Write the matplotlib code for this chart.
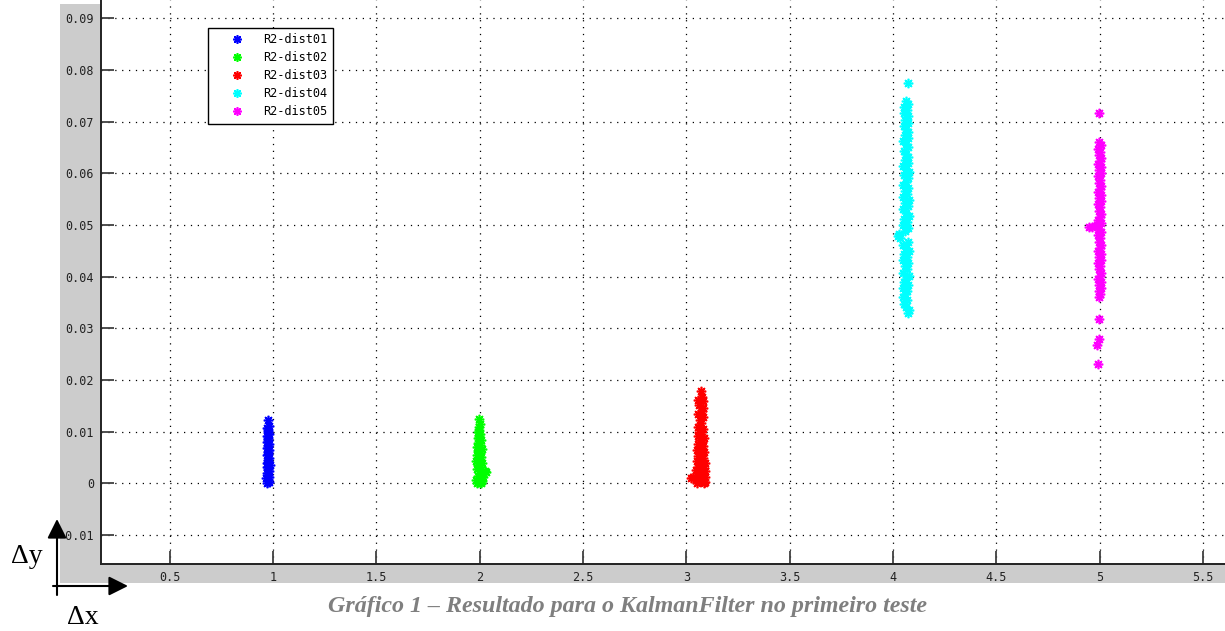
import matplotlib.pyplot as plt
from matplotlib.patches import Rectangle, FancyArrowPatch

blue_x = [0.972, 0.980, 0.976, 0.968, 0.983, 0.975, 0.970, 0.981,
          0.977, 0.973, 0.984, 0.969, 0.978, 0.975, 0.982, 0.971,
          0.977, 0.974, 0.980, 0.970, 0.976, 0.983, 0.972, 0.978,
          0.975, 0.969, 0.981, 0.974, 0.977, 0.972, 0.979, 0.975]
blue_y = [0.0000, 0.0003, 0.0006, 0.0010, 0.0013, 0.0017, 0.0020, 0.0024,
          0.0028, 0.0031, 0.0035, 0.0039, 0.0042, 0.0046, 0.0050, 0.0054,
          0.0057, 0.0061, 0.0065, 0.0069, 0.0072, 0.0076, 0.0080, 0.0084,
          0.0088, 0.0091, 0.0095, 0.0099, 0.0103, 0.0107, 0.0111, 0.0122]

green_x = [1.985, 2.005, 1.995, 2.012, 1.982, 2.000, 2.015, 1.990, 2.008, 2.030,
           2.024, 1.986, 2.003, 1.992, 2.010, 1.984, 1.998, 2.006, 1.988, 2.002,
           1.994, 2.009, 1.987, 2.000, 1.993, 2.004, 1.990, 1.997, 2.001, 1.992,
           1.999, 1.995, 2.003, 1.996]
green_y = [0.0000, 0.0001, 0.0003, 0.0005, 0.0007, 0.0009, 0.0012, 0.0015, 0.0018, 0.0021,
           0.0024, 0.0027, 0.0031, 0.0035, 0.0039, 0.0043, 0.0047, 0.0051, 0.0055, 0.0059,
           0.0063, 0.0067, 0.0071, 0.0075, 0.0079, 0.0083, 0.0087, 0.0091, 0.0095, 0.0099,
           0.0104, 0.0109, 0.0114, 0.0124]

red_x = [3.050, 3.085, 3.020, 3.060, 3.092, 3.045, 3.075, 3.030, 3.068, 3.088,
         3.052, 3.080, 3.058, 3.090, 3.048, 3.072, 3.084, 3.055, 3.078, 3.062,
         3.088, 3.050, 3.070, 3.082, 3.056, 3.076, 3.064, 3.086, 3.052, 3.072,
         3.060, 3.080, 3.055, 3.074, 3.066, 3.084, 3.058, 3.070, 3.062, 3.078,
         3.054, 3.072, 3.066, 3.080, 3.058, 3.076, 3.082, 3.062, 3.078, 3.056,
         3.074, 3.070]
red_y = [0.0000, 0.0000, 0.0010, 0.0004, 0.0003, 0.0008, 0.0007, 0.0012, 0.0011, 0.0013,
         0.0016, 0.0018, 0.0021, 0.0023, 0.0025, 0.0027, 0.0030, 0.0032, 0.0035, 0.0038,
         0.0040, 0.0043, 0.0046, 0.0049, 0.0052, 0.0055, 0.0058, 0.0061, 0.0064, 0.0067,
         0.0070, 0.0073, 0.0077, 0.0080, 0.0084, 0.0088, 0.0092, 0.0096, 0.0100, 0.0105,
         0.0110, 0.0116, 0.0122, 0.0128, 0.0134, 0.0140, 0.0146, 0.0152, 0.0160, 0.0161,
         0.0168, 0.0178]

cyan_x = [4.070, 4.076, 4.060, 4.052, 4.068, 4.048, 4.058, 4.066, 4.050, 4.074,
          4.054, 4.064, 4.078, 4.050, 4.068, 4.056, 4.074, 4.048, 4.066, 4.054,
          4.076, 4.060, 4.046, 4.070, 4.035, 4.022, 4.030, 4.056, 4.074, 4.050,
          4.066, 4.054, 4.076, 4.060, 4.048, 4.072, 4.056, 4.078, 4.050, 4.066,
          4.056, 4.074, 4.048, 4.062, 4.072, 4.054, 4.076, 4.060, 4.050, 4.070,
          4.056, 4.074, 4.062, 4.052, 4.072, 4.060, 4.050, 4.070, 4.056, 4.074,
          4.062, 4.052, 4.070, 4.058, 4.072, 4.054, 4.066, 4.052, 4.074, 4.062,
          4.070]
cyan_y = [0.0330, 0.0336, 0.0342, 0.0348, 0.0354, 0.0360, 0.0366, 0.0372, 0.0378, 0.0384,
          0.0390, 0.0396, 0.0402, 0.0408, 0.0414, 0.0420, 0.0426, 0.0432, 0.0438, 0.0444,
          0.0450, 0.0456, 0.0462, 0.0468, 0.0474, 0.0478, 0.0482, 0.0488, 0.0494, 0.0500,
          0.0506, 0.0512, 0.0518, 0.0524, 0.0530, 0.0536, 0.0542, 0.0548, 0.0554, 0.0560,
          0.0566, 0.0572, 0.0578, 0.0584, 0.0590, 0.0596, 0.0602, 0.0608, 0.0614, 0.0620,
          0.0626, 0.0632, 0.0638, 0.0644, 0.0650, 0.0656, 0.0662, 0.0668, 0.0674, 0.0680,
          0.0686, 0.0692, 0.0698, 0.0704, 0.0710, 0.0716, 0.0722, 0.0728, 0.0734, 0.0740,
          0.0775]

magenta_x = [4.993, 4.985, 4.995, 4.997, 4.998, 5.002, 4.994, 5.004, 4.996, 5.006,
             4.992, 5.000, 5.008, 4.994, 5.002, 4.990, 5.004, 4.996, 5.006, 4.992,
             5.000, 5.008, 4.994, 5.002, 4.990, 5.004, 4.996, 4.950, 4.962, 4.975,
             4.985, 5.006, 4.992, 5.000, 5.008, 4.994, 5.002, 4.990, 5.004, 4.996,
             5.006, 4.992, 5.000, 5.008, 4.994, 5.002, 4.990, 5.004, 4.996, 5.006,
             4.992, 5.000, 5.008, 4.994, 5.002, 4.990, 5.004, 4.998, 4.998]
magenta_y = [0.0230, 0.0267, 0.0279, 0.0318, 0.0360, 0.0366, 0.0372, 0.0378, 0.0384, 0.0390,
             0.0396, 0.0402, 0.0408, 0.0414, 0.0420, 0.0426, 0.0432, 0.0438, 0.0444, 0.0450,
             0.0456, 0.0462, 0.0468, 0.0474, 0.0480, 0.0486, 0.0492, 0.0496, 0.0497, 0.0498,
             0.0500, 0.0504, 0.0510, 0.0516, 0.0522, 0.0528, 0.0534, 0.0540, 0.0546, 0.0552,
             0.0558, 0.0564, 0.0570, 0.0576, 0.0582, 0.0588, 0.0594, 0.0600, 0.0606, 0.0612,
             0.0618, 0.0624, 0.0630, 0.0636, 0.0642, 0.0648, 0.0654, 0.0660, 0.0717]

labels = ['R2-dist01', 'R2-dist02', 'R2-dist03', 'R2-dist04', 'R2-dist05']
colors = ['#0000ff', '#00ff00', '#ff0000', '#00ffff', '#ff00ff']

xticks = [0.5, 1, 1.5, 2, 2.5, 3, 3.5, 4, 4.5, 5, 5.5]
xtick_labels = ['0.5', '1', '1.5', '2', '2.5', '3', '3.5', '4', '4.5', '5', '5.5']
yticks = [-0.01, 0, 0.01, 0.02, 0.03, 0.04, 0.05, 0.06, 0.07, 0.08, 0.09]
ytick_labels = ['-0.01', '0', '0.01', '0.02', '0.03', '0.04', '0.05', '0.06', '0.07', '0.08', '0.09']

caption = 'Gráfico 1 – Resultado para o KalmanFilter no primeiro teste'

W, H = 1225, 631
fig = plt.figure(figsize=(W / 100, H / 100), dpi=100)
fig.patch.set_facecolor('white')

# grey matlab figure background
fig.patches.append(Rectangle((60 / W, 1 - 583 / H), (W - 60) / W, (583 - 4) / H,
                             transform=fig.transFigure, facecolor='#cccccc',
                             edgecolor='none', zorder=-10))

ax = fig.add_axes([101 / W, 1 - 564 / H, (W - 101) / W, 564 / H])
ax.set_facecolor('white')
ax.set_zorder(1)

series = [(blue_x, blue_y), (green_x, green_y), (red_x, red_y),
          (cyan_x, cyan_y), (magenta_x, magenta_y)]
for (xs, ys), c, lab in zip(series, colors, labels):
    ax.plot(xs, ys, linestyle='none', marker=(8, 2, 0), markersize=6.8,
            markeredgewidth=1.2, color=c, label=lab)

ax.set_xlim(0.1679, 5.6057)
ax.set_ylim(-0.01561, 0.09354)
ax.set_xticks(xticks)
ax.set_xticklabels(xtick_labels)
ax.set_yticks(yticks)
ax.set_yticklabels(ytick_labels)

for lab in ax.get_xticklabels() + ax.get_yticklabels():
    lab.set_fontfamily('DejaVu Sans Mono')
    lab.set_fontsize(8.5)
    lab.set_color('#222222')

ax.tick_params(direction='in', length=9.5, width=1.3, color='#404040', pad=5)
ax.spines['top'].set_visible(False)
ax.spines['right'].set_visible(False)
for s in ['left', 'bottom']:
    ax.spines[s].set_linewidth(1.4)
    ax.spines[s].set_color('#222222')

ax.set_axisbelow(True)
ax.grid(True, color='black', linewidth=0.9, linestyle=(0, (1, 4.5)))

leg = ax.legend(loc='upper left', bbox_to_anchor=(208 / W, 1 - 28 / H),
                bbox_transform=fig.transFigure, borderaxespad=0,
                prop={'family': 'DejaVu Sans Mono', 'size': 8.6},
                fancybox=False, framealpha=1, edgecolor='black',
                handlelength=4.0, handletextpad=0.2, borderpad=0.45,
                labelspacing=0.42, numpoints=1, markerscale=0.9)
leg.get_frame().set_linewidth(1.0)

# delta axes sketch in the lower left corner
arrow_style = '-|>,head_length=0.9,head_width=0.45'
fig.patches.append(FancyArrowPatch((57 / W, 1 - 595 / H), (57 / W, 1 - 519 / H),
                                   transform=fig.transFigure, arrowstyle=arrow_style,
                                   mutation_scale=13, linewidth=1.5, color='black',
                                   shrinkA=0, shrinkB=0, zorder=5))
fig.patches.append(FancyArrowPatch((53 / W, 1 - 586 / H), (128 / W, 1 - 586 / H),
                                   transform=fig.transFigure, arrowstyle=arrow_style,
                                   mutation_scale=13, linewidth=1.5, color='black',
                                   shrinkA=0, shrinkB=0, zorder=5))
fig.text(11 / W, 1 - 563 / H, 'Δy', fontfamily='Liberation Serif', fontsize=20,
         ha='left', va='baseline')
fig.text(67 / W, 1 - 624 / H, 'Δx', fontfamily='Liberation Serif', fontsize=20,
         ha='left', va='baseline')

fig.text(627 / W, 1 - 612 / H, caption, fontfamily='Liberation Serif', fontsize=17.3,
         fontstyle='italic', fontweight='bold', color='#7f7f7f',
         ha='center', va='baseline')

fig.savefig('out.png', dpi=100)
